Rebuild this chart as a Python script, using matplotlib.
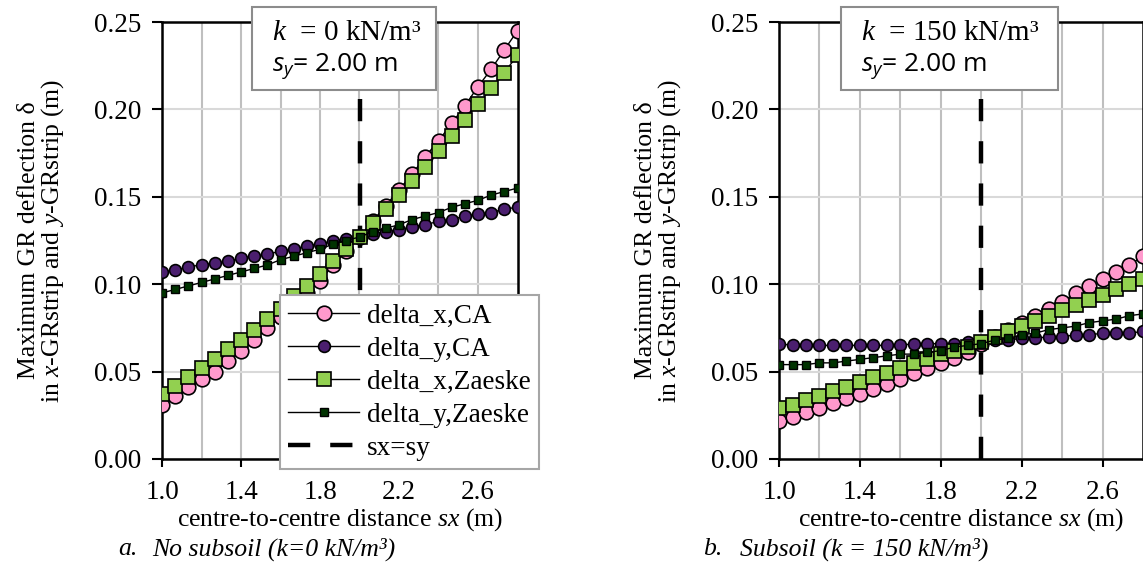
import numpy as np
import matplotlib
matplotlib.use('Agg')
import matplotlib.pyplot as plt
from matplotlib.patches import Rectangle

plt.rcParams['font.family'] = ['Liberation Serif', 'DejaVu Serif']
plt.rcParams['mathtext.fontset'] = 'custom'
plt.rcParams['mathtext.rm'] = 'Liberation Serif'
plt.rcParams['mathtext.it'] = 'Liberation Serif:italic'
plt.rcParams['mathtext.sf'] = 'Open Sans:italic'

# centre-to-centre distance sx (m)
sx = [1.0, 1.067, 1.133, 1.2, 1.267, 1.333, 1.4, 1.467, 1.533, 1.6, 1.667, 1.733, 1.8, 1.867,
      1.933, 2.0, 2.067, 2.133, 2.2, 2.267, 2.333, 2.4, 2.467, 2.533, 2.6, 2.667, 2.733, 2.8]

# k = 0 kN/m3
dx_ca_0 = [0.031, 0.036, 0.041, 0.046, 0.050, 0.056, 0.062, 0.068, 0.075, 0.081, 0.087, 0.095, 0.102, 0.111,
           0.119, 0.127, 0.136, 0.145, 0.154, 0.163, 0.173, 0.182, 0.192, 0.202, 0.213, 0.223, 0.234, 0.245]
dy_ca_0 = [0.107, 0.108, 0.110, 0.111, 0.112, 0.113, 0.115, 0.116, 0.117, 0.119, 0.120, 0.122, 0.123, 0.125,
           0.126, 0.127, 0.129, 0.130, 0.131, 0.133, 0.134, 0.136, 0.137, 0.139, 0.140, 0.141, 0.143, 0.144]
dx_z_0 = [0.037, 0.042, 0.047, 0.052, 0.057, 0.063, 0.068, 0.074, 0.080, 0.086, 0.093, 0.099, 0.106, 0.113,
          0.120, 0.127, 0.135, 0.143, 0.151, 0.159, 0.167, 0.176, 0.185, 0.194, 0.203, 0.212, 0.221, 0.231]
dy_z_0 = [0.095, 0.097, 0.099, 0.101, 0.103, 0.105, 0.107, 0.109, 0.111, 0.114, 0.116, 0.118, 0.120, 0.123,
          0.125, 0.127, 0.130, 0.132, 0.134, 0.137, 0.139, 0.141, 0.144, 0.146, 0.148, 0.151, 0.153, 0.155]

# k = 150 kN/m3
dx_ca_150 = [0.022, 0.024, 0.027, 0.029, 0.032, 0.035, 0.037, 0.040, 0.043, 0.046, 0.049, 0.052, 0.055, 0.058,
             0.061, 0.066, 0.070, 0.074, 0.078, 0.082, 0.086, 0.090, 0.095, 0.099, 0.103, 0.107, 0.111, 0.116]
dy_ca_150 = [0.066, 0.065, 0.065, 0.065, 0.065, 0.065, 0.065, 0.065, 0.065, 0.065, 0.066, 0.066, 0.066, 0.066,
             0.067, 0.067, 0.068, 0.068, 0.069, 0.069, 0.070, 0.070, 0.071, 0.071, 0.072, 0.072, 0.072, 0.073]
dx_z_150 = [0.029, 0.031, 0.034, 0.036, 0.039, 0.041, 0.044, 0.047, 0.049, 0.052, 0.055, 0.057, 0.060, 0.062,
            0.064, 0.067, 0.070, 0.073, 0.076, 0.079, 0.082, 0.085, 0.088, 0.091, 0.094, 0.097, 0.100, 0.103]
dy_z_150 = [0.054, 0.054, 0.054, 0.055, 0.055, 0.056, 0.057, 0.058, 0.059, 0.060, 0.060, 0.061, 0.062, 0.064,
            0.065, 0.066, 0.068, 0.069, 0.071, 0.072, 0.074, 0.075, 0.076, 0.078, 0.079, 0.080, 0.082, 0.083]

sy = 2.0
x_ticks = [1.0, 1.4, 1.8, 2.2, 2.6]
y_ticks = [0.00, 0.05, 0.10, 0.15, 0.20, 0.25]

FS = 19.5      # tick labels
FS_LAB = 18.5  # axis labels, legend, captions


def draw_panel(ax, dx_ca, dy_ca, dx_z, dy_z):
    ax.plot(sx, dx_ca, '-o', color='black', lw=1, ms=10.5, mfc='#ff99cc', mec='black', mew=1.2,
            label='delta_x,CA', zorder=3)
    ax.plot(sx, dy_ca, '-o', color='black', lw=1, ms=8.5, mfc='#4b1f6f', mec='black', mew=1.2,
            label='delta_y,CA', zorder=3)
    ax.plot(sx, dx_z, '-s', color='black', lw=1, ms=10, mfc='#92d050', mec='black', mew=1.2,
            label='delta_x,Zaeske', zorder=3)
    ax.plot(sx, dy_z, '-s', color='black', lw=1, ms=6, mfc='#003300', mec='black', mew=1,
            label='delta_y,Zaeske', zorder=3)
    ax.axvline(sy, color='black', lw=3.2, dashes=(5, 4.5), label='sx=sy', zorder=2)

    ax.set_xlim(1.0, 2.8)
    ax.set_ylim(0, 0.25)
    ax.set_xticks(x_ticks)
    ax.set_xticks(np.arange(1.2, 2.8, 0.2), minor=True)
    ax.set_yticks(y_ticks)
    ax.set_xticklabels(['%.1f' % t for t in x_ticks], fontsize=FS)
    ax.set_yticklabels(['%.2f' % t for t in y_ticks], fontsize=FS)
    ax.tick_params(axis='x', which='major', direction='out', length=6, width=1.5, pad=9)
    ax.tick_params(axis='y', which='major', direction='out', length=7, width=1.5, pad=8)
    ax.tick_params(which='minor', length=0)
    ax.grid(True, axis='x', which='both', color='#bfbfbf', lw=1.5)
    ax.grid(True, axis='y', which='major', color='#d9d9d9', lw=1.5)
    ax.set_axisbelow(True)
    for s in ax.spines.values():
        s.set_linewidth(1.8)
        s.set_color('black')

    ax.set_xlabel('centre-to-centre distance $sx$ (m)', fontsize=FS_LAB, labelpad=1)
    ax.set_ylabel('Maximum GR deflection δ\nin $x$-GRstrip and $y$-GRstrip (m)',
                  fontsize=FS_LAB, linespacing=0.95, labelpad=20)


fig = plt.figure(figsize=(11.43, 5.68), dpi=100)
ax1 = fig.add_axes([162 / 1143, 109 / 568, 355.5 / 1143, 437 / 568])
ax2 = fig.add_axes([779 / 1143, 109 / 568, 364 / 1143, 437 / 568])

draw_panel(ax1, dx_ca_0, dy_ca_0, dx_z_0, dy_z_0)
draw_panel(ax2, dx_ca_150, dy_ca_150, dx_z_150, dy_z_150)

leg = ax1.legend(loc='lower right', bbox_to_anchor=(1.06, -0.023), borderaxespad=0,
                 fontsize=FS, handlelength=2.6, handletextpad=0.3, labelspacing=0.3,
                 borderpad=0.3, fancybox=False, framealpha=1, edgecolor='#a6a6a6')
leg.get_frame().set_linewidth(1.5)
leg.set_zorder(10)

# text boxes with k and sy
for (bx0, bx1, ktxt) in [(252, 436, '0'), (841, 1058, '150')]:
    fig.patches.append(Rectangle((bx0 / 1143, 1 - 90 / 568), (bx1 - bx0) / 1143, 83 / 568,
                                 transform=fig.transFigure, facecolor='white',
                                 edgecolor='#8c8c8c', lw=1.5, zorder=5))
    fig.text((bx0 + 20) / 1143, 1 - 33 / 568, '$k$  = ' + ktxt + ' kN/m³', fontsize=21,
             va='center', ha='left', zorder=6)
    fig.text((bx0 + 20) / 1143, 1 - 66 / 568, r'$\mathsf{s_y}$= 2.00 m', fontsize=19,
             family='Open Sans', va='center', ha='left', zorder=6)

# captions
fig.text(118 / 1143, 1 - 549 / 568, 'a.', fontsize=FS_LAB, style='italic', va='center')
fig.text(152 / 1143, 1 - 549 / 568, 'No subsoil (k=0 kN/m³)', fontsize=FS_LAB, style='italic', va='center')
fig.text(703 / 1143, 1 - 549 / 568, 'b.', fontsize=FS_LAB, style='italic', va='center')
fig.text(740 / 1143, 1 - 549 / 568, 'Subsoil (k = 150 kN/m³)', fontsize=FS_LAB, style='italic', va='center')

fig.savefig('out.png', dpi=100)
